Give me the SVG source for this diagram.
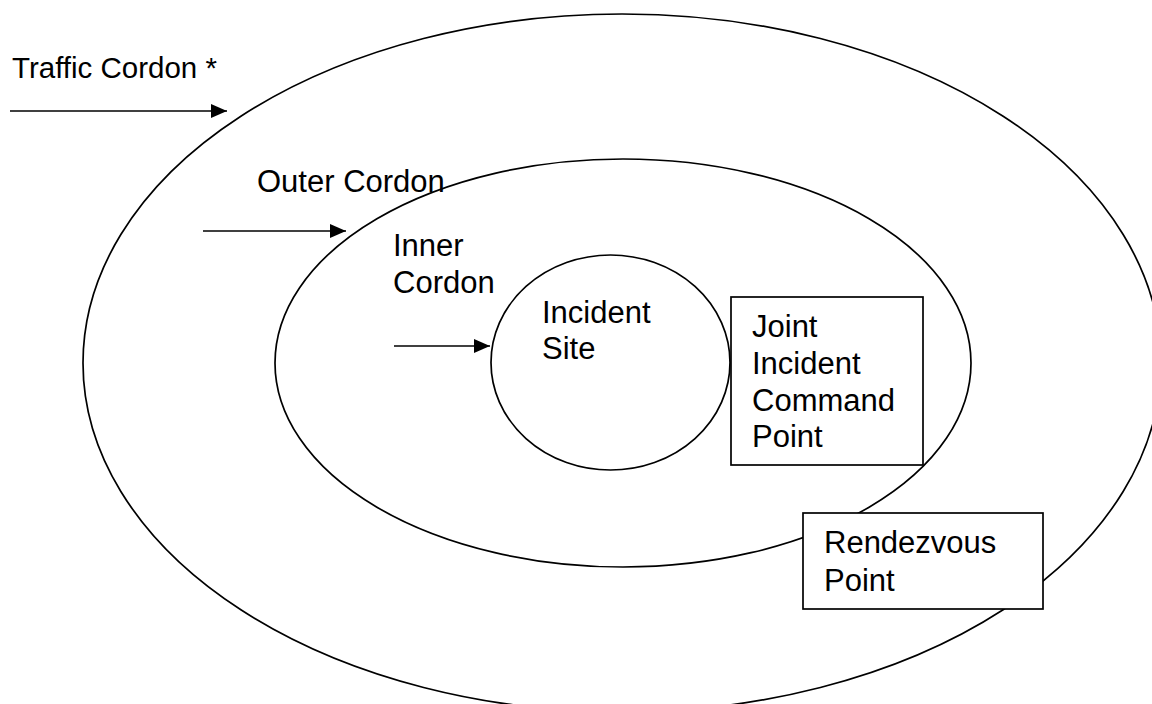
<svg xmlns="http://www.w3.org/2000/svg" width="1152" height="704" viewBox="0 0 1152 704">
  <style>
    .ring { fill: none; stroke: #000; stroke-width: 1.7; }
    .box { fill: #fff; stroke: #000; stroke-width: 1.7; }
    .arrow { stroke: #000; stroke-width: 1.7; fill: none; marker-end: url(#head); }
    text { font-family: "Liberation Sans", Arial, sans-serif; font-size: 31px; fill: #000; }
    .small { font-size: 29.5px; }
  </style>
  <defs>
    <marker id="head" viewBox="0 0 16 14" refX="16" refY="7" markerWidth="16" markerHeight="14" markerUnits="userSpaceOnUse" orient="auto">
      <path d="M0,0 L16,7 L0,14 Z" fill="#000"/>
    </marker>
  </defs>
  <rect width="1152" height="704" fill="#fff"/>

  <g id="traffic-cordon">
    <ellipse class="ring" cx="622" cy="363" rx="539" ry="349"/>
    <text class="small" x="12" y="78">Traffic Cordon *</text>
  </g>
  <g id="outer-cordon">
    <ellipse class="ring" cx="623" cy="363" rx="348" ry="204"/>
    <text x="257" y="192">Outer Cordon</text>
  </g>
  <g id="incident-site">
    <ellipse class="ring" cx="610.5" cy="362.5" rx="119.5" ry="107.5"/>
    <text x="542" y="323">Incident</text>
    <text x="542" y="359">Site</text>
  </g>
  <g id="inner-cordon">
    <text x="393" y="256">Inner</text>
    <text x="393" y="293">Cordon</text>
  </g>

  <g id="connectors">
    <line class="arrow" x1="10" y1="111" x2="227" y2="111"/>
    <line class="arrow" x1="203" y1="231" x2="346" y2="231"/>
    <line class="arrow" x1="394" y1="346" x2="490" y2="346"/>
  </g>

  <g id="joint-incident-command-point">
    <rect class="box" x="731" y="297" width="192" height="168"/>
    <text x="752" y="337">Joint</text>
    <text x="752" y="374">Incident</text>
    <text x="752" y="411">Command</text>
    <text x="752" y="447">Point</text>
  </g>
  <g id="rendezvous-point">
    <rect class="box" x="803" y="513" width="240" height="96"/>
    <text x="824" y="553">Rendezvous</text>
    <text x="824" y="591">Point</text>
  </g>
</svg>
